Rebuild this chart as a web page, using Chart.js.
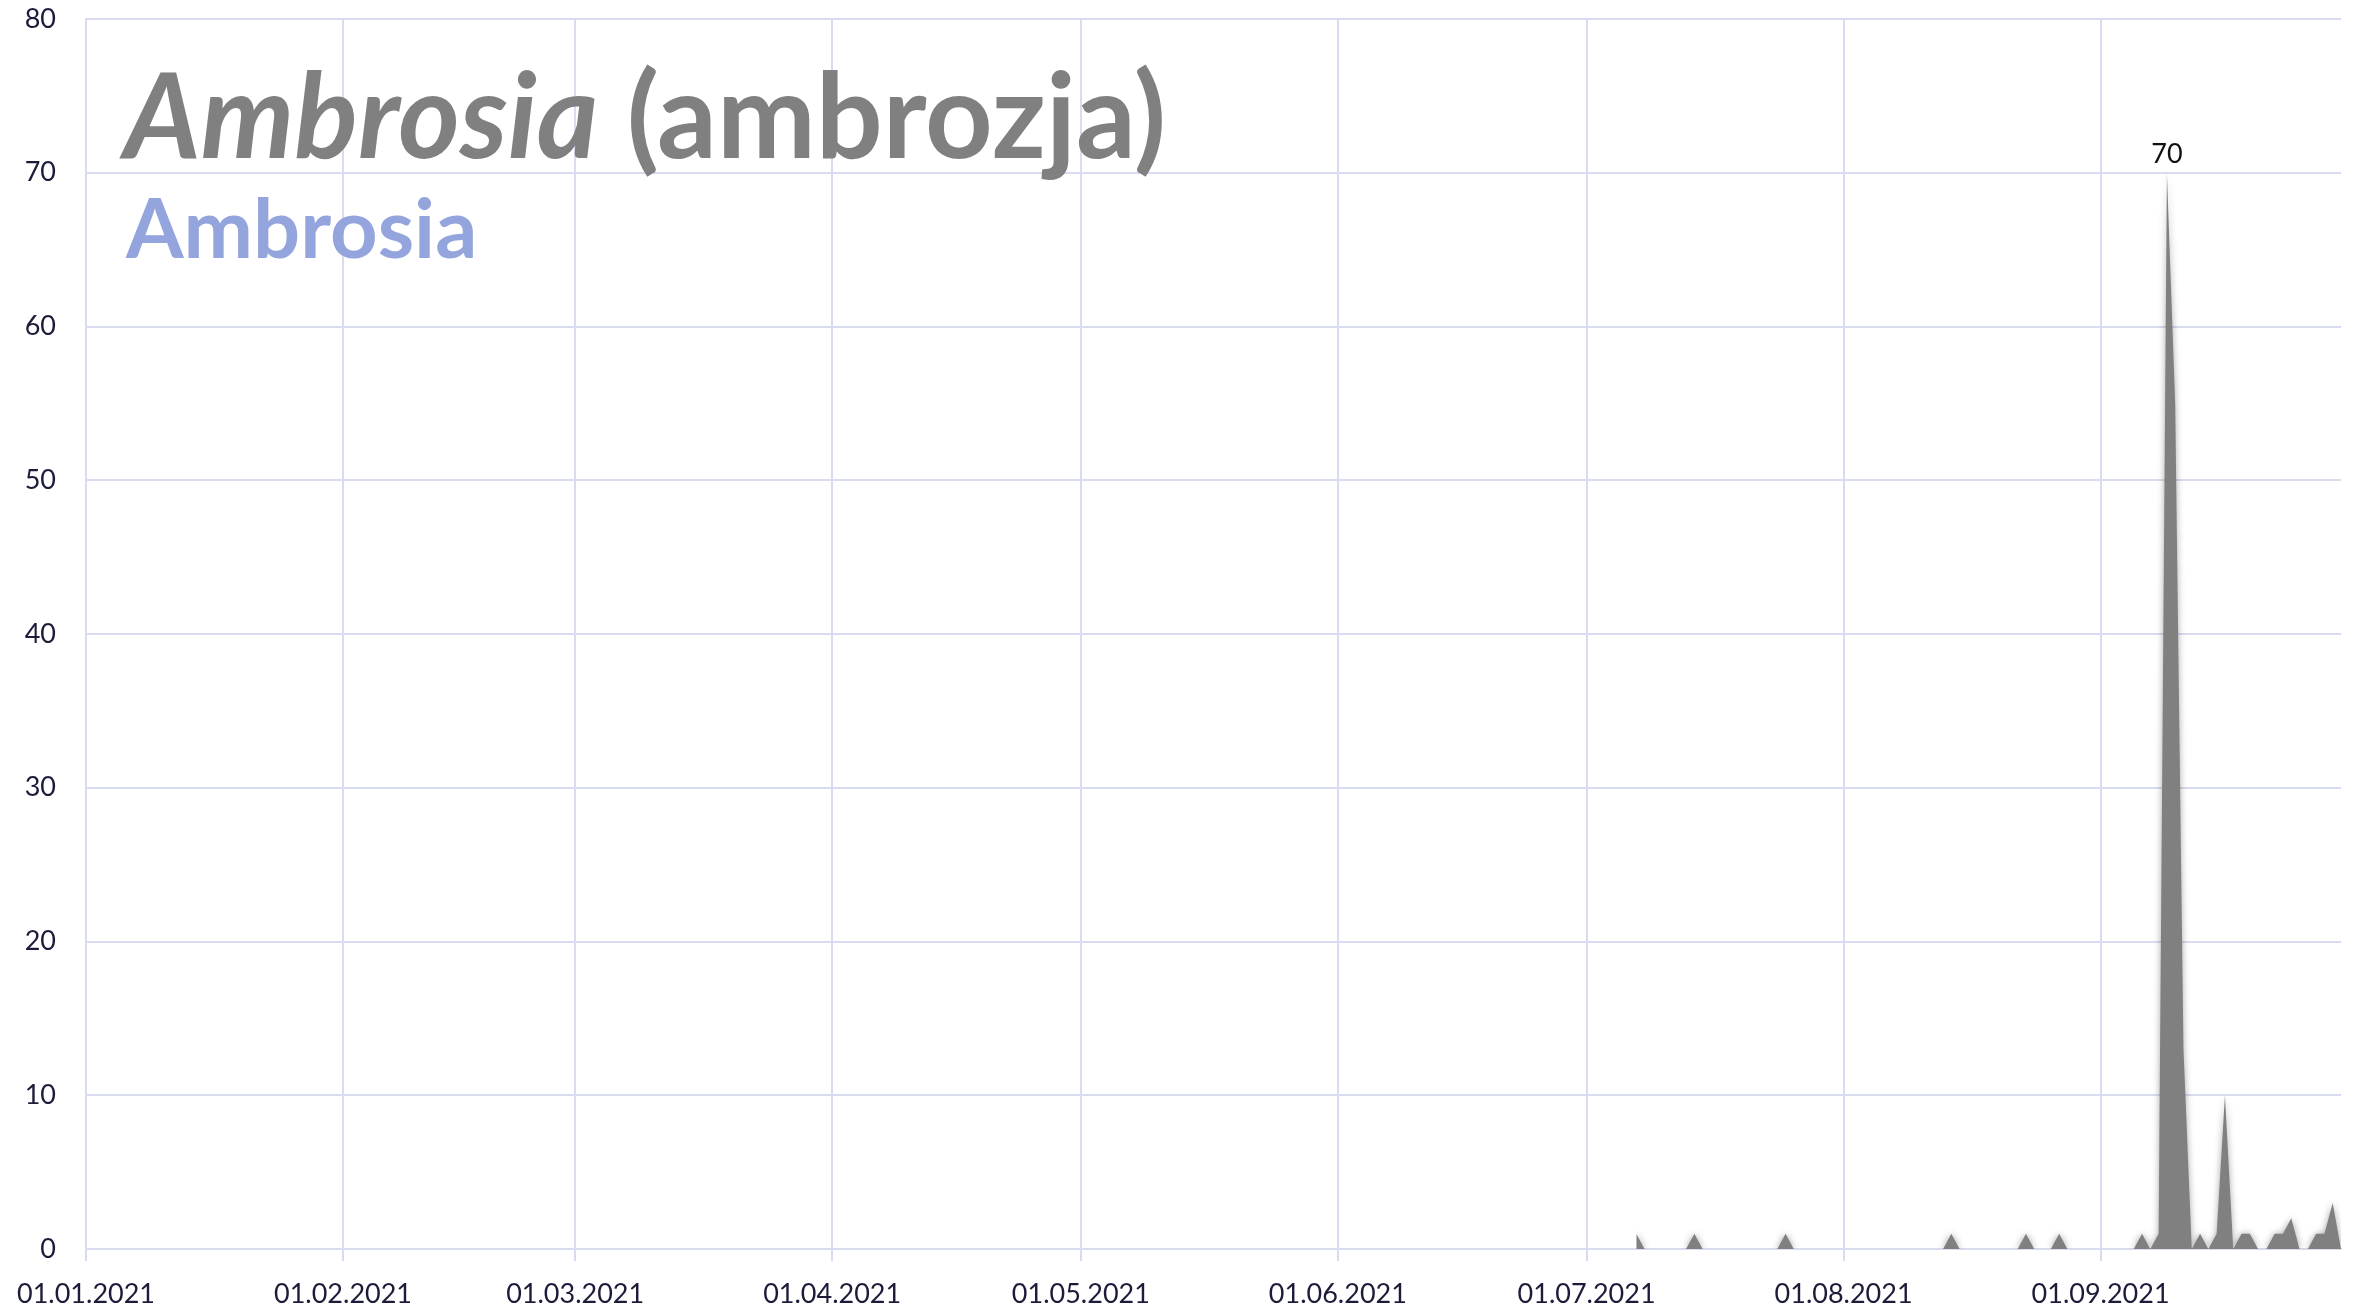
<!DOCTYPE html>
<html>
<head>
<meta charset="utf-8">
<script src="https://cdn.jsdelivr.net/npm/chart.js@4.4.1/dist/chart.umd.min.js"></script>
<style>
  html, body { margin: 0; padding: 0; background: #fff; }
  #wrap { width: 2356px; height: 1311px; position: relative; }
</style>
</head>
<body>
<div id="wrap"><canvas id="chart" width="2356" height="1311"></canvas></div>
<script>
// okres pomiarowy: 01.01.2021 - 30.09.2021
const startDate = new Date(2021, 0, 1);
const dayCount = 273;

// stężenie pyłku od 07.07.2021 (wcześniej brak danych)
const seriesStart = '07.07.2021';
const julyValues = [1, 0, 0, 0, 0, 0, 0, 1, 0, 0, 0, 0, 0, 0, 0, 0, 0, 0, 1, 0, 0, 0, 0, 0, 0];          // 07.07 - 31.07
const augustValues = [0, 0, 0, 0, 0, 0, 0, 0, 0, 0, 0, 0, 0, 1, 0, 0, 0, 0, 0, 0, 0, 0, 1, 0, 0, 0, 1, 0, 0, 0, 0]; // 01.08 - 31.08
const septemberValues = [0, 0, 0, 0, 0, 1, 0, 1, 70, 55, 13, 0, 1, 0, 1, 10, 0, 1, 1, 0, 0, 1, 1, 2, 0, 0, 1, 1, 3, 0]; // 01.09 - 30.09

const yTicks = [0, 10, 20, 30, 40, 50, 60, 70, 80];
const titleLatin = 'Ambrosia';
const titlePolish = ' (ambrozja)';
const subtitle = 'Ambrosia';

function fmt(d) {
    const dd = String(d.getDate()).padStart(2, '0');
    const mm = String(d.getMonth() + 1).padStart(2, '0');
    return `${dd}.${mm}.${d.getFullYear()}`;
}

const labels = [];
for (let i = 0; i < dayCount; i++) {
    const d = new Date(startDate);
    d.setDate(d.getDate() + i);
    labels.push(fmt(d));
}

const values = julyValues.concat(augustValues, septemberValues);
const firstIdx = labels.indexOf(seriesStart);
const points = values.map((v, i) => ({ x: labels[firstIdx + i], y: v }));

const FONT = 'Lato, "Open Sans", sans-serif';
const GRID = '#d9dbf0';

const shadowPlugin = {
    id: 'shadow',
    beforeDatasetsDraw(chart) {
        const ctx = chart.ctx;
        ctx.save();
        ctx.shadowColor = 'rgba(0,0,0,0.35)';
        ctx.shadowBlur = 7;
    },
    afterDatasetsDraw(chart) {
        chart.ctx.restore();
    }
};

const peakLabel = {
    id: 'peakLabel',
    afterDatasetsDraw(chart) {
        const meta = chart.getDatasetMeta(0);
        let best = null;
        meta.data.forEach((el, i) => {
            const v = points[i].y;
            if (best === null || v > best.v) best = { v, el };
        });
        if (!best) return;
        const ctx = chart.ctx;
        ctx.save();
        ctx.font = `27px ${FONT}`;
        ctx.fillStyle = '#111';
        ctx.textAlign = 'center';
        ctx.textBaseline = 'alphabetic';
        ctx.fillText(String(best.v), best.el.x, best.el.y - 10);
        ctx.restore();
    }
};

const titles = {
    id: 'titles',
    afterDraw(chart) {
        const ctx = chart.ctx;
        const a = chart.chartArea;
        ctx.save();
        ctx.textBaseline = 'alphabetic';
        ctx.fillStyle = '#808080';
        ctx.font = `italic bold 118px ${FONT}`;
        const x0 = a.left + 38;
        ctx.fillText(titleLatin, x0, 158);
        const w = ctx.measureText(titleLatin).width;
        ctx.font = `bold 118px ${FONT}`;
        ctx.fillText(titlePolish, x0 + w, 158);
        ctx.fillStyle = '#94a4dd';
        ctx.font = `bold 83px ${FONT}`;
        ctx.fillText(subtitle, x0 + 2, 258);
        ctx.restore();
    }
};

new Chart(document.getElementById('chart'), {
    type: 'line',
    data: {
        labels,
        datasets: [{
            data: points,
            backgroundColor: '#808080',
            borderColor: '#808080',
            borderWidth: 0,
            fill: 'origin',
            pointRadius: 0,
            tension: 0,
            spanGaps: false,
        }]
    },
    options: {
        responsive: false,
        animation: false,
        layout: { padding: { top: 19, right: 15, left: 0, bottom: 0 } },
        plugins: {
            legend: { display: false },
            tooltip: { enabled: false },
        },
        scales: {
            x: {
                type: 'category',
                offset: false,
                afterFit: s => { s.height = 62; s.paddingTop = 0; },
                grid: {
                    color: GRID,
                    lineWidth: 2,
                    drawTicks: true,
                    tickLength: 12,
                },
                border: { color: GRID, width: 2 },
                ticks: {
                    autoSkip: false,
                    maxRotation: 0,
                    minRotation: 0,
                    padding: 17,
                    color: '#1c1c3a',
                    font: { family: FONT, size: 27 },
                    callback(val) {
                        const l = labels[val];
                        return l.startsWith('01.') ? l : null;
                    }
                }
            },
            y: {
                min: 0,
                max: 80,
                afterFit: s => { s.width = 86; s.paddingTop = 0; },
                afterBuildTicks: s => { s.ticks = yTicks.map(v => ({ value: v })); },
                grid: { color: GRID, lineWidth: 2, drawTicks: false },
                border: { color: GRID, width: 2 },
                ticks: {
                    padding: 30,
                    color: '#1c1c3a',
                    font: { family: FONT, size: 27 },
                }
            }
        }
    },
    plugins: [shadowPlugin, peakLabel, titles]
});
</script>
</body>
</html>
